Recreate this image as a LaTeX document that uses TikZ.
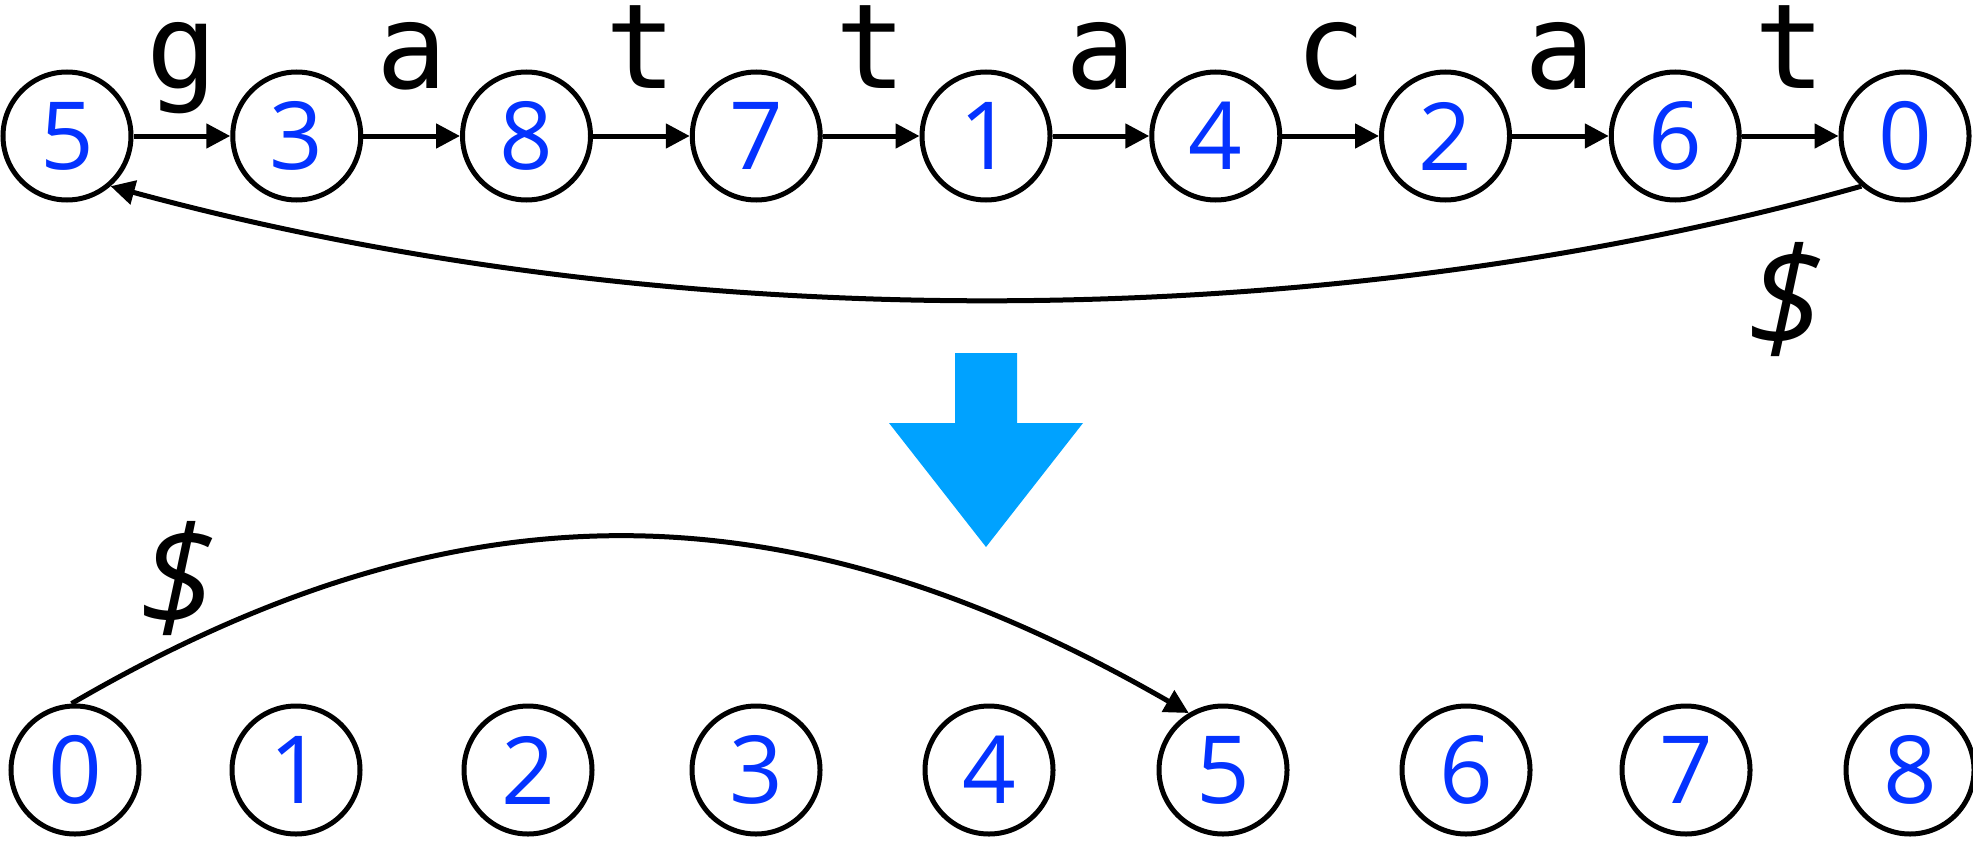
\documentclass[tikz,border=0pt]{standalone}
\usepackage{fontspec}
\setmainfont{Open Sans}
\newfontfamily\monof{DejaVu Sans Mono}
\usetikzlibrary{arrows.meta}
\definecolor{numblue}{RGB}{4,51,255}
\definecolor{arrcyan}{RGB}{0,162,255}
\begin{document}
\begin{tikzpicture}[x=0.5pt,y=-0.5pt,
  st/.style={circle,draw=black,line width=2.5pt,minimum size=64pt,inner sep=0pt,text=numblue,font=\fontsize{47}{47}\selectfont},
  lbl/.style={anchor=base,font=\monof\fontsize{59}{59}\selectfont,inner sep=0pt},
  dollar/.style={font=\itshape\fontsize{70}{70}\selectfont,inner sep=0pt},
  edge/.style={line width=2.5pt,-{Triangle[length=12pt,width=12pt]}}]
\useasboundingbox (0,0) rectangle (1973,840);
% top row
\foreach \v [count=\i from 0] in {5,3,8,7,1,4,2,6,0}
  \node[st] (t\i) at ({67+229.75*\i},136) {\v};
\foreach \i/\j/\l in {0/1/g,1/2/a,2/3/t,3/4/t,4/5/a,5/6/c,6/7/a,7/8/t}{
  \draw[edge] (t\i) -- (t\j);
  \node[lbl] (l\i) at ({181.9+229.75*\i},89) {\l};
}
\draw[edge] (t8.229) .. controls (1322,338) and (669,338) .. (t0.311);
\node[dollar] (d1) at (1786,300) {\$};
% transform arrow
\fill[arrcyan] (955,353) -- (1017,353) -- (1017,423) -- (1083,423) -- (986,547) -- (889,423) -- (955,423) -- cycle;
% bottom row
\foreach \v/\x in {0/75,1/296,2/528,3/756,4/989,5/1223,6/1466,7/1686,8/1910}
  \node[st] (b\v) at (\x,770) {\v};
\draw[edge] (b0.93) .. controls (455,480) and (785,480) .. (b5.121);
\node[dollar] (d2) at (178,579) {\$};
\end{tikzpicture}
\end{document}
